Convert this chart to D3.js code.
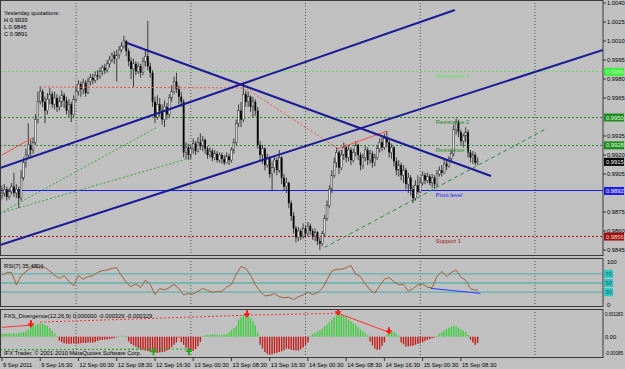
<!DOCTYPE html>
<html>
<head>
<meta charset="utf-8">
<script src="https://cdn.jsdelivr.net/npm/d3@7"></script>
<style>
body { margin: 0; background: #c0c0c0; }
svg text { font-family: "Liberation Sans", Arial, sans-serif; font-size: 5.8px; }
</style>
</head>
<body>
<div id="chart"></div>
<script>
// EURCHF-ish M30 chart, 200 bars from 9 Sep 08:30 to 15 Sep 12:00
// prices kept in 1/10000 units, open of a bar = previous close
const firstOpen = 9888;
const closes = [
9890,9893,9887,9891,9895,9890,9893,9886,9902,9914, 9920,9928,9924,9930,9948,9962,9970,9962,9955,9964,
9968,9960,9965,9958,9962,9967,9963,9955,9960,9952, 9964,9970,9976,9972,9977,9969,9978,9981,9979,9983,
9982,9986,9989,9987,9992,9995,9999,9996,9999,10003, 10006,10010,10002,9994,9988,9992,9986,9990,9985,9994,
9998,9990,9985,9962,9950,9960,9955,9948,9958,9952, 9965,9970,9978,9972,9966,9962,9922,9926,9920,9925,
9929,9923,9930,9927,9932,9925,9920,9923,9918,9921, 9916,9920,9917,9914,9919,9916,9924,9930,9945,9955,
9948,9968,9962,9966,9958,9962,9955,9928,9920,9925, 9912,9918,9905,9910,9916,9908,9918,9902,9895,9898,
9882,9872,9862,9855,9860,9856,9862,9858,9864,9860, 9856,9859,9852,9850,9858,9870,9880,9893,9904,9914,
9922,9910,9920,9926,9918,9924,9916,9922,9928,9920, 9912,9918,9924,9916,9921,9914,9918,9925,9930,9926,
9933,9930,9922,9926,9915,9908,9912,9904,9908,9897, 9902,9893,9886,9896,9891,9898,9904,9900,9903,9898,
9902,9897,9905,9908,9906,9913,9911,9917,9921,9940, 9946,9938,9931,9935,9938,9922,9918,9920,9914,9915
];
const highs = [
9896,9897,9895,9894,9898,9906,9897,9895,9908,9918, 9925,9945,9932,9934,9952,9970,9974,9972,9966,9969,
9973,9970,9970,9968,9966,9971,9969,9966,9964,9962, 9967,9975,9979,9978,9980,9979,9981,9984,9984,9986,
9987,9989,9991,9992,9995,9998,10001,10002,10003,10006, 10009,10014,10011,10004,9997,9996,9994,9993,9992,9997,
10003,10026,9993,9987,9966,9967,9965,9960,9963,9961, 9968,9975,9982,9985,9975,9970,9964,9930,9929,9928,
9933,9931,9934,9937,9935,9933,9927,9926,9925,9924, 9923,9922,9922,9920,9922,9921,9926,9933,9948,9960,
9962,9977,9971,9970,9967,9966,9964,9958,9931,9928, 9926,9921,9919,9915,9920,9918,9924,9919,9905,9902,
9899,9884,9875,9864,9863,9862,9866,9864,9867,9866, 9862,9862,9860,9855,9860,9873,9884,9896,9908,9918,
9926,9924,9924,9930,9928,9927,9926,9925,9931,9929, 9922,9921,9927,9926,9924,9923,9921,9928,9933,9934,
9937,9939,9932,9929,9927,9918,9916,9914,9912,9910, 9906,9904,9896,9900,9904,9902,9907,9906,9906,9905,
9905,9904,9908,9911,9912,9916,9916,9919,9924,9944, 9949,9948,9940,9937,9942,9940,9924,9923,9922,9918
];
const lows = [
9885,9887,9884,9885,9889,9887,9886,9878,9884,9900, 9910,9918,9919,9921,9928,9945,9960,9958,9945,9952,
9960,9957,9956,9954,9955,9958,9957,9952,9950,9946, 9950,9962,9967,9966,9968,9966,9968,9975,9976,9977,
9979,9980,9983,9984,9985,9989,9993,9992,9978,9996, 10001,10004,9998,9990,9980,9973,9983,9984,9981,9983,
9990,9987,9981,9958,9945,9948,9950,9944,9942,9948, 9950,9962,9968,9969,9960,9958,9918,9917,9916,9917,
9921,9920,9922,9924,9923,9921,9917,9918,9915,9916, 9914,9914,9913,9912,9913,9912,9914,9921,9928,9942,
9942,9946,9958,9958,9954,9950,9951,9925,9916,9913, 9908,9910,9902,9892,9906,9904,9906,9897,9892,9890,
9878,9868,9858,9851,9852,9853,9854,9855,9856,9857, 9853,9852,9849,9845,9848,9856,9868,9878,9890,9902,
9910,9905,9908,9916,9914,9915,9912,9914,9919,9916, 9908,9909,9915,9912,9913,9910,9911,9916,9922,9923,
9924,9926,9918,9917,9911,9904,9903,9900,9898,9893, 9890,9888,9882,9884,9889,9890,9896,9897,9898,9896,
9894,9893,9895,9903,9903,9905,9908,9910,9914,9919, 9936,9934,9928,9926,9930,9918,9914,9913,9912,9912
];

// RSI(7), one reading every 2 bars, plus the last bar
const rsiValues = [
67,73,73,46,66,75,82,85,82,84, 76,67,60,66,53,44,66,58,64,66,
73,77,78,82,83,66,51,42,48,40, 56,47,25,38,35,40,47,38,24,27,
26,32,38,34,30,31,32,41,47,69, 86,82,67,46,32,22,23,27,20,18,
19,14,20,24,30,25,29,38,57,76, 80,80,83,88,69,64,48,35,28,44,
58,62,53,46,47,32,38,46,48,41, 40,64,75,64,73,78,63,56,38,34
];
const rsiLast = 35.4804;
const rsiLevels = [70, 50, 30];

// FXS_Divergence main line (histogram), in 1e-5
const divHist = [
14,16,15,17,16,18,16,19,20,24, 28,38,52,60,62,66,68,66,62,55,
45,32,18,4,-20,-28,-34,-36,-37,-36, -35,-37,-36,-34,-32,-33,-31,-30,-31,-28,
-22,-18,-16,-15,-14,-12,-10,-8,-3,3, 5,4,-2,-25,-38,-46,-52,-60,-65,-68,
-72,-75,-78,-80,-82,-84,-82,-80,-78,-72, -66,-55,-42,-30,-5,-28,-42,-58,-68,-72,
-73,-65,-50,-28,4,8,10,10,12,11, 10,9,10,12,14,22,34,44,55,88,
100,112,115,112,98,80,60,22,-42,-62, -80,-90,-94,-92,-88,-84,-80,-76,-70,-62,
-64,-68,-70,-72,-72,-66,-56,-42,-30,6, 14,20,26,34,42,55,65,75,88,102,
112,120,116,110,100,90,80,70,62,50, 38,28,18,8,-25,-45,-62,-68,-66,-48,
-30,10,18,26,24,16,6,-30,-40,-52, -50,-48,-47,-42,-38,-34,-28,-22,-16,-12,
-8,-4,6,16,24,32,40,46,52,58, 54,46,38,30,24,10,-16,-30,-42,-33
];

// daily pivot levels
const levelNames = ["Resistance 3", "Resistance 2", "Resistance 1", "Pivot level", "Support 1"];
const levelPrices = [0.9986, 0.9950, 0.9928, 0.9892, 0.9856];
const levelColors = ["#5ee05e", "#2a8a2a", "#2a8a2a", "#1c1cff", "#a31818"];
const currentPrice = 0.9915;

const yesterday = ["Yesterday quotations:", "H 0.9939", "L 0.9845", "C 0.9891"];

// trendlines as [bar, price] pairs
const trendLines = [
    [[52.3, 1.00084], [204.6, 0.99034]],
    [[-0.84, 0.99097], [189.5, 1.00345]],
    [[-0.84, 0.98490], [251.5, 1.00030]]
];
const redPriceLines = [
    {pts: [[0, 0.9920], [12.6, 0.99334]], dashed: false},
    {pts: [[15.9, 0.99737], [100.8, 0.99729]], dashed: true},
    {pts: [[102.5, 0.9972], [140.6, 0.9925]], dashed: true},
    {pts: [[140.6, 0.9925], [161.2, 0.9939]], dashed: false}
];
const greenPriceLines = [
    [[-0.84, 0.9874], [65, 0.9942]],
    [[-0.84, 0.9874], [78.5, 0.99175]],
    [[135, 0.9847], [228, 0.9941]]
];
const redDivLines = [
    {pts: [[0, 0.00049], [12.1, 0.0006]], dashed: false},
    {pts: [[15.9, 0.00076], [102.5, 0.00112]], dashed: true},
    {pts: [[102.5, 0.00112], [140.6, 0.00122]], dashed: true},
    {pts: [[140.6, 0.00122], [161.9, 0.00023]], dashed: false}
];
const redArrows = [[12.1, 0.0006], [102.5, 0.00112], [140.6, 0.00122], [161.9, 0.00023]];
const greenDivLines = [
    [[-0.84, -0.00068], [63.4, -0.00066]],
    [[-0.84, -0.00068], [78.2, -0.00064]]
];
const greenArrows = [[63.4, -0.00066], [78.2, -0.00064]];
const rsiTrend = [[179.3, 38.4], [200.2, 27.5]];

// axes (0.9950 and 0.9890 are hidden under the level boxes)
const priceTicks = [1.0040, 1.0025, 1.0010, 0.9995, 0.9980, 0.9965, 0.9935, 0.9920, 0.9905, 0.9875, 0.9860, 0.9845];
const divTicks = [0.001183, 0, -0.00085];
const divTickLabels = ["0.001183", "0.00", "-0.00085"];
const timeTickBars = [0, 16, 32, 48, 64, 80, 96, 112, 128, 144, 160, 176, 192];
const timeTickLabels = ["9 Sep 2011", "9 Sep 16:30", "12 Sep 00:30", "12 Sep 08:30", "12 Sep 16:30", "13 Sep 00:30",
    "13 Sep 08:30", "13 Sep 16:30", "14 Sep 00:30", "14 Sep 08:30", "14 Sep 16:30", "15 Sep 00:30", "15 Sep 08:30"];
const dayStartBars = [31, 79, 127, 175, 223];


const width = 625, height = 369, plotRight = 603;
const main = {top: 0, bottom: 256}, rsiP = {top: 258, bottom: 307}, macdP = {top: 309, bottom: 358};

const svg = d3.select("#chart").append("svg")
    .attr("width", width)
    .attr("height", height);

svg.append("rect").attr("width", width).attr("height", height).attr("fill", "#c0c0c0");

const x = d3.scaleLinear().domain([0, 199]).range([2, 2 + 199 * 2.39]);
const yMain = d3.scaleLinear().domain([0.9845, 1.0040]).range([250, 3]);
const yRsi = d3.scaleLinear().domain([0, 100]).range([306, 260]);
const yDiv = d3.scaleLinear().domain([0, 0.001183]).range([336.7, 314]);

// clip paths for each window
const defs = svg.append("defs");
[["clipMain", main], ["clipRsi", rsiP], ["clipMacd", macdP]].forEach(function (c) {
    defs.append("clipPath").attr("id", c[0])
        .append("rect").attr("x", 0).attr("y", c[1].top).attr("width", plotRight).attr("height", c[1].bottom - c[1].top);
});

// vertical day separators
svg.append("g").selectAll("line")
    .data(dayStartBars)
    .enter().append("line")
    .attr("x1", d => x(d)).attr("x2", d => x(d))
    .attr("y1", 0).attr("y2", macdP.bottom)
    .attr("stroke", "#555").attr("stroke-width", 1)
    .attr("stroke-dasharray", "1,2");

// ---------- main window ----------
const gMain = svg.append("g").attr("clip-path", "url(#clipMain)");

// pivot levels
gMain.selectAll(".level")
    .data(levelPrices)
    .enter().append("line")
    .attr("x1", 0).attr("x2", plotRight)
    .attr("y1", d => Math.round(yMain(d)) + 0.5).attr("y2", d => Math.round(yMain(d)) + 0.5)
    .attr("stroke", (d, i) => levelColors[i])
    .attr("stroke-width", 1)
    .attr("stroke-dasharray", (d, i) => i === 3 ? null : "2,2");

const priceLine = d3.line().x(d => x(d[0])).y(d => yMain(d[1]));

greenPriceLines.forEach(function (pts, i) {
    gMain.append("path").attr("d", priceLine(pts))
        .attr("fill", "none")
        .attr("stroke", i < 2 ? "#3aa63a" : "#2c8a3c")
        .attr("stroke-width", 1)
        .attr("stroke-dasharray", i < 2 ? "2,2" : "4,3");
});

// candles
const candles = closes.map(function (c, i) {
    return {i: i, o: i === 0 ? firstOpen : closes[i - 1], h: highs[i], l: lows[i], c: c};
});
const toP = v => v / 10000;

gMain.selectAll(".wick")
    .data(candles)
    .enter().append("line")
    .attr("x1", d => x(d.i)).attr("x2", d => x(d.i))
    .attr("y1", d => yMain(toP(d.h))).attr("y2", d => yMain(toP(d.l)))
    .attr("stroke", "#1a1a1a").attr("stroke-width", 0.8);

gMain.selectAll(".body")
    .data(candles)
    .enter().append("rect")
    .attr("x", d => x(d.i) - 0.9)
    .attr("width", 1.8)
    .attr("y", d => yMain(toP(Math.max(d.o, d.c))))
    .attr("height", d => Math.max(0.8, yMain(toP(Math.min(d.o, d.c))) - yMain(toP(Math.max(d.o, d.c)))))
    .attr("fill", d => d.c >= d.o ? "#e6e6e6" : "#000")
    .attr("stroke", d => d.c >= d.o ? "#2a2a2a" : "none")
    .attr("stroke-width", 0.5);

redPriceLines.forEach(function (l) {
    gMain.append("path").attr("d", priceLine(l.pts))
        .attr("fill", "none")
        .attr("stroke", "#ff4a4a")
        .attr("stroke-width", 1)
        .attr("stroke-dasharray", l.dashed ? "2,2" : null);
});

trendLines.forEach(function (pts) {
    gMain.append("path").attr("d", priceLine(pts))
        .attr("fill", "none")
        .attr("stroke", "#1a1a96")
        .attr("stroke-width", 2);
});

// level labels
gMain.selectAll(".levelText")
    .data(levelNames)
    .enter().append("text")
    .attr("x", x(181.5))
    .attr("y", (d, i) => yMain(levelPrices[i]) + 7)
    .attr("fill", (d, i) => levelColors[i])
    .text(d => d);

yesterday.forEach(function (t, i) {
    svg.append("text").attr("x", 4).attr("y", 15 + i * 7).attr("fill", "#000").text(t);
});

// ---------- RSI window ----------
const gRsi = svg.append("g").attr("clip-path", "url(#clipRsi)");
gRsi.selectAll(".rsiLevel")
    .data(rsiLevels)
    .enter().append("line")
    .attr("x1", 0).attr("x2", plotRight)
    .attr("y1", d => yRsi(d)).attr("y2", d => yRsi(d))
    .attr("stroke", "#5fb3ad").attr("stroke-width", 1.3);

const rsiPts = rsiValues.map((v, k) => [k * 2, v]).concat([[199, rsiLast]]);
gRsi.append("path")
    .attr("d", d3.line().x(d => x(d[0])).y(d => yRsi(d[1]))(rsiPts))
    .attr("fill", "none").attr("stroke", "#a0623c").attr("stroke-width", 1);

gRsi.append("path")
    .attr("d", d3.line().x(d => x(d[0])).y(d => yRsi(d[1]))(rsiTrend))
    .attr("fill", "none").attr("stroke", "#2a3cff").attr("stroke-width", 1);

svg.append("text").attr("x", 4).attr("y", 268).text("RSI(7) " + rsiLast.toFixed(4));

// ---------- divergence window ----------
const gDiv = svg.append("g").attr("clip-path", "url(#clipMacd)");
gDiv.selectAll(".hist")
    .data(divHist)
    .enter().append("rect")
    .attr("x", (d, i) => x(i) - 0.7)
    .attr("width", 1.4)
    .attr("y", d => d >= 0 ? yDiv(d / 100000) : yDiv(0))
    .attr("height", d => Math.abs(yDiv(d / 100000) - yDiv(0)))
    .attr("fill", d => d >= 0 ? "#3ccf3c" : "#c41c1c");

const divLine = d3.line().x(d => x(d[0])).y(d => yDiv(d[1]));
redDivLines.forEach(function (l) {
    gDiv.append("path").attr("d", divLine(l.pts))
        .attr("fill", "none").attr("stroke", "#ff3030").attr("stroke-width", 1)
        .attr("stroke-dasharray", l.dashed ? "2,2" : null);
});
greenDivLines.forEach(function (pts) {
    gDiv.append("path").attr("d", divLine(pts))
        .attr("fill", "none").attr("stroke", "#2aa82a").attr("stroke-width", 1)
        .attr("stroke-dasharray", "2,2");
});

// arrows
gDiv.selectAll(".downArrow")
    .data(redArrows)
    .enter().append("path")
    .attr("transform", d => "translate(" + x(d[0]) + "," + yDiv(d[1]) + ")")
    .attr("d", "M-1,-5 h2 v3 h2.5 l-3.5,4.5 l-3.5,-4.5 h2.5 z")
    .attr("fill", "#ff1a1a");
gDiv.selectAll(".upArrow")
    .data(greenArrows)
    .enter().append("path")
    .attr("transform", d => "translate(" + x(d[0]) + "," + yDiv(d[1]) + ")")
    .attr("d", "M-1,6 h2 v-3 h2.5 l-3.5,-4.5 l-3.5,4.5 h2.5 z")
    .attr("fill", "#1ea81e");

svg.append("text").attr("x", 4).attr("y", 318)
    .text("FXS_Divergence(12,26,9) 0.000000 -0.000329 -0.000329");
svg.append("text").attr("x", 4).attr("y", 355)
    .text("IFX Trader, © 2001-2010 MetaQuotes Software Corp.");

// ---------- frames ----------
[main, rsiP, macdP].forEach(function (p) {
    svg.append("rect")
        .attr("x", 0.5).attr("y", p.top + 0.5)
        .attr("width", plotRight - 0.5).attr("height", p.bottom - p.top - 1)
        .attr("fill", "none").attr("stroke", "#3a3a3a").attr("stroke-width", 1);
});

// ---------- right axes ----------
const axisG = svg.append("g");
priceTicks.forEach(function (p) {
    const y = yMain(p);
    axisG.append("line").attr("x1", plotRight).attr("x2", plotRight + 3).attr("y1", y).attr("y2", y).attr("stroke", "#333");
    axisG.append("text").attr("x", plotRight + 4).attr("y", y + 2).attr("fill", "#000").text(p.toFixed(4));
});

function priceBox(y, label, fill, color) {
    axisG.append("rect").attr("x", plotRight + 1).attr("y", y - 3.5).attr("width", 20).attr("height", 8).attr("fill", fill);
    axisG.append("text").attr("x", plotRight + 3).attr("y", y + 2.5).attr("fill", color).text(label);
}
const boxFills = ["#3df03d", "#1e8c1e", "#1e8c1e", "#1c1cf0", "#9c1010"];
const boxText = ["#b8ffb8", "#e0ffe0", "#e0ffe0", "#ffffff", "#ffd8d8"];
levelPrices.forEach(function (p, i) {
    priceBox(yMain(p), p.toFixed(4), boxFills[i], boxText[i]);
});
priceBox(yMain(currentPrice), currentPrice.toFixed(4), "#000", "#fff");

// RSI axis
axisG.append("text").attr("x", plotRight + 4).attr("y", yRsi(100) + 4).text("100");
axisG.append("text").attr("x", plotRight + 4).attr("y", yRsi(0) + 1).text("0");
rsiLevels.forEach(function (v) {
    axisG.append("rect").attr("x", plotRight + 1).attr("y", yRsi(v) - 4).attr("width", 9).attr("height", 8).attr("fill", "#2fc4c4");
    axisG.append("text").attr("x", plotRight + 2.5).attr("y", yRsi(v) + 2).attr("fill", "#0c6c6c").text(v);
});

// divergence axis, long labels squeezed into the strip
divTicks.forEach(function (v, i) {
    const t = axisG.append("text").attr("x", plotRight + 2).attr("y", yDiv(v) + 2).text(divTickLabels[i]);
    if (divTickLabels[i].length > 6) {
        t.attr("textLength", 18).attr("lengthAdjust", "spacingAndGlyphs").style("font-size", "5.2px");
    }
});

// ---------- time axis ----------
timeTickBars.forEach(function (b, i) {
    axisG.append("line").attr("x1", x(b)).attr("x2", x(b)).attr("y1", macdP.bottom).attr("y2", macdP.bottom + 3).attr("stroke", "#333");
    axisG.append("text").attr("x", x(b) + 1).attr("y", 367).attr("fill", "#000").text(timeTickLabels[i]);
});
</script>
</body>
</html>
